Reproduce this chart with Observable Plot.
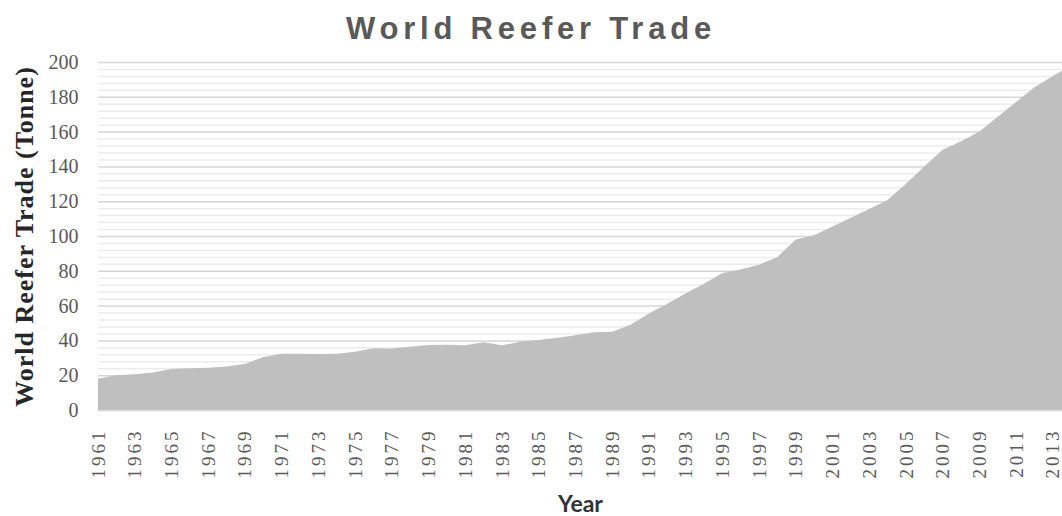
<!DOCTYPE html>
<html>
<head>
<meta charset="utf-8">
<script src="https://cdn.jsdelivr.net/npm/d3@7"></script>
<script src="https://cdn.jsdelivr.net/npm/@observablehq/plot@0.6"></script>
<style>
  html, body { margin: 0; padding: 0; background: #fff; }
  #title {
    width: 1062px; height: 46px; padding-top: 4px; line-height: 50px;
    text-align: center; font-family: "Liberation Sans", Arial, sans-serif;
    font-weight: bold; font-size: 31px; letter-spacing: 4.8px; color: #595959;
  }
</style>
</head>
<body>
<div id="title">World Reefer Trade</div>
<div id="chart"></div>
<script>
const years = [1961,1962,1963,1964,1965,1966,1967,1968,1969,1970,
  1971,1972,1973,1974,1975,1976,1977,1978,1979,1980,
  1981,1982,1983,1984,1985,1986,1987,1988,1989,1990,
  1991,1992,1993,1994,1995,1996,1997,1998,1999,2000,
  2001,2002,2003,2004,2005,2006,2007,2008,2009,2010,
  2011,2012,2013,2014];
const trade = [18,20,20.5,21.5,23.5,24,24.3,25,26.5,30.5,
  32.3,32.3,32.2,32.3,33.5,35.5,35.3,36.3,37.3,37.5,
  37.2,39,37.2,39.2,40.3,41.5,43,44.7,45,49,
  55.5,61,67,72.5,78.7,80.8,83.5,88,98,100.5,
  105.5,110.5,115.5,120.7,130,140,149.5,154.5,160,168.5,
  177,185.5,192,198];
const xTicks = d3.range(1961, 2014, 2);
const yTicks = d3.range(0, 201, 20);
const yMinor = d3.range(0, 201, 4).filter(v => v % 20 !== 0);
const yLabel = "World Reefer Trade (Tonne)";
const xLabel = "Year";

const data = years.map((y, i) => ({year: y, value: trade[i]}));

const chart = Plot.plot({
  width: 1062,
  height: 466,
  marginTop: 12,
  marginBottom: 106,
  marginLeft: 98,
  marginRight: 0,
  x: {type: "linear", domain: [1961, 2013.5]},
  y: {domain: [0, 200]},
  marks: [
    Plot.ruleY(yMinor, {stroke: "#ececec", strokeWidth: 1.5}),
    Plot.ruleY(yTicks, {stroke: "#d6d6d6", strokeWidth: 1.5}),
    Plot.areaY(data, {x: "year", y: "value", fill: "#bfbfbf", clip: true}),
    Plot.ruleY([0], {stroke: "#d9d9d9", strokeWidth: 1.5}),
    Plot.axisY({ticks: yTicks, tickSize: 0, tickPadding: 20, label: null,
      fontFamily: "Liberation Serif, serif", fontSize: 20, fill: "#595959"}),
    Plot.axisX({ticks: xTicks, tickFormat: d => String(d), tickSize: 0, tickPadding: 18,
      tickRotate: -90, label: null,
      fontFamily: "Liberation Serif, serif", fontSize: 19, fill: "#595959"}),
    Plot.text([yLabel], {text: d => d, frameAnchor: "left", rotate: -90, dx: -74,
      textAnchor: "middle", lineAnchor: "middle", fontFamily: "Liberation Serif, serif",
      fontWeight: "bold", fontSize: 26, fill: "#262626"}),
    Plot.text([xLabel], {text: d => d, frameAnchor: "bottom", dy: 94,
      textAnchor: "middle", lineAnchor: "middle", fontFamily: "Lato, sans-serif",
      fontWeight: "bold", fontSize: 23, fill: "#333333"})
  ]
});
d3.select(chart).selectAll("g[aria-label='x-axis tick label'] text").attr("letter-spacing", 3);
d3.select(chart).selectAll("g[aria-label='text'] text")
  .filter(function() { return this.textContent === yLabel; })
  .attr("letter-spacing", 1);
document.getElementById("chart").appendChild(chart);
</script>
</body>
</html>
